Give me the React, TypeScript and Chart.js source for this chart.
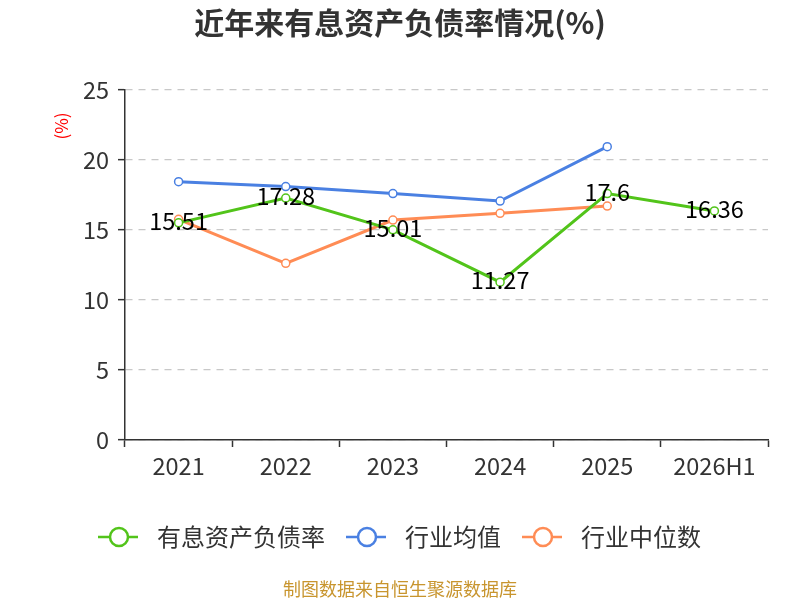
import React, { useEffect, useRef } from 'react';
import { Chart, registerables } from 'chart.js';
import type { ChartConfiguration, Plugin } from 'chart.js';

Chart.register(...registerables);

const FONT = '"Noto Sans CJK SC", "Noto Sans", sans-serif';

const categories = ['2021', '2022', '2023', '2024', '2025', '2026H1'];
const debtRatio = [15.51, 17.28, 15.01, 11.27, 17.6, 16.36];
const industryAvg = [18.45, 18.1, 17.6, 17.07, 20.95, null];
const industryMedian = [15.76, 12.62, 15.71, 16.19, 16.71, null];
const yTicks = [0, 5, 10, 15, 20, 25];

const seriesNames = ['有息资产负债率', '行业均值', '行业中位数'];
const seriesColors = ['#52c41a', '#4a80e2', '#ff8c55'];

// value labels on the main series, centered on the points
const labelPlugin: Plugin<'line'> = {
  id: 'valueLabels',
  afterDatasetsDraw(chart) {
    const ctx = chart.ctx;
    const meta = chart.getDatasetMeta(0);
    ctx.save();
    ctx.font = `23.5px ${FONT}`;
    ctx.fillStyle = '#000';
    ctx.textAlign = 'center';
    ctx.textBaseline = 'middle';
    meta.data.forEach((pt, i) => {
      const v = debtRatio[i];
      if (v == null) return;
      ctx.fillText(String(v), pt.x, pt.y - 2);
    });
    ctx.restore();
  },
};

// title, axis name, legend and source note
const decorPlugin: Plugin<'line'> = {
  id: 'decor',
  afterDraw(chart) {
    const ctx = chart.ctx;
    ctx.save();
    ctx.textBaseline = 'middle';

    ctx.font = `bold 30px ${FONT}`;
    ctx.fillStyle = '#333';
    ctx.textAlign = 'center';
    ctx.fillText('近年来有息资产负债率情况(%)', 400, 23);

    ctx.save();
    ctx.translate(62, 126);
    ctx.rotate(-Math.PI / 2);
    ctx.font = `17px ${FONT}`;
    ctx.fillStyle = '#ff0000';
    ctx.fillText('(%)', 0, 0);
    ctx.restore();

    const legendX = [98, 346, 522];
    const y = 537;
    ctx.textAlign = 'left';
    ctx.font = `24px ${FONT}`;
    seriesNames.forEach((name, i) => {
      const x = legendX[i];
      ctx.strokeStyle = seriesColors[i];
      ctx.lineWidth = 2.5;
      ctx.beginPath();
      ctx.moveTo(x, y);
      ctx.lineTo(x + 40, y);
      ctx.stroke();
      ctx.beginPath();
      ctx.arc(x + 21, y, 9, 0, Math.PI * 2);
      ctx.fillStyle = '#fff';
      ctx.fill();
      ctx.stroke();
      ctx.fillStyle = '#333';
      ctx.fillText(name, x + 59, y);
    });

    ctx.font = `18px ${FONT}`;
    ctx.fillStyle = '#c8952e';
    ctx.textAlign = 'center';
    ctx.fillText('制图数据来自恒生聚源数据库', 400, 589);
    ctx.restore();
  },
};

const App: React.FC = () => {
  const chartRef = useRef<HTMLCanvasElement>(null);
  const chartInstanceRef = useRef<Chart | null>(null);

  useEffect(() => {
    if (!chartRef.current) return;
    if (chartInstanceRef.current) chartInstanceRef.current.destroy();

    const makeSet = (label: string, data: (number | null)[], color: string) => ({
      label,
      data,
      borderColor: color,
      backgroundColor: '#fff',
      borderWidth: 3,
      pointRadius: 4,
      pointBorderWidth: 1.5,
      pointBackgroundColor: '#fff',
      pointBorderColor: color,
      tension: 0,
      spanGaps: false,
    });

    const config: ChartConfiguration<'line'> = {
      type: 'line',
      data: {
        labels: categories,
        datasets: [
          makeSet(seriesNames[0], debtRatio, seriesColors[0]),
          makeSet(seriesNames[1], industryAvg, seriesColors[1]),
          makeSet(seriesNames[2], industryMedian, seriesColors[2]),
        ],
      },
      options: {
        animation: false,
        responsive: false,
        maintainAspectRatio: false,
        layout: { padding: { left: 0, right: 32, top: 90, bottom: 0 } },
        plugins: {
          legend: { display: false },
          title: { display: false },
          tooltip: { enabled: false },
        },
        scales: {
          x: {
            offset: true,
            afterFit: (scale) => { scale.height = 160; },
            border: { color: '#333', width: 1.5 },
            grid: {
              offset: true,
              drawOnChartArea: false,
              drawTicks: true,
              tickLength: 7,
              tickColor: '#333',
              tickWidth: 1.5,
            },
            ticks: { color: '#333', font: { family: FONT, size: 23.5 }, padding: 5 },
          },
          y: {
            min: 0,
            max: 25,
            afterFit: (scale) => { scale.width = 125; },
            afterBuildTicks: (scale) => { scale.ticks = yTicks.map((v) => ({ value: v })); },
            border: { color: '#333', width: 1.5, dash: [7, 6] },
            grid: {
              color: '#c8c8c8',
              lineWidth: 1.3,
              tickLength: 7,
              tickColor: '#333',
              tickWidth: 1.5,
              tickBorderDash: [],
            },
            ticks: { color: '#333', font: { family: FONT, size: 23.5 }, padding: 9 },
          },
        },
      },
      plugins: [labelPlugin, decorPlugin],
    };

    chartInstanceRef.current = new Chart(chartRef.current, config);
    return () => {
      if (chartInstanceRef.current) {
        chartInstanceRef.current.destroy();
        chartInstanceRef.current = null;
      }
    };
  }, []);

  return (
    <div style={{ position: 'fixed', left: 0, top: 0, width: 800, height: 600, background: '#fff' }}>
      <canvas ref={chartRef} width={800} height={600} style={{ width: 800, height: 600 }} />
    </div>
  );
};

export default App;
